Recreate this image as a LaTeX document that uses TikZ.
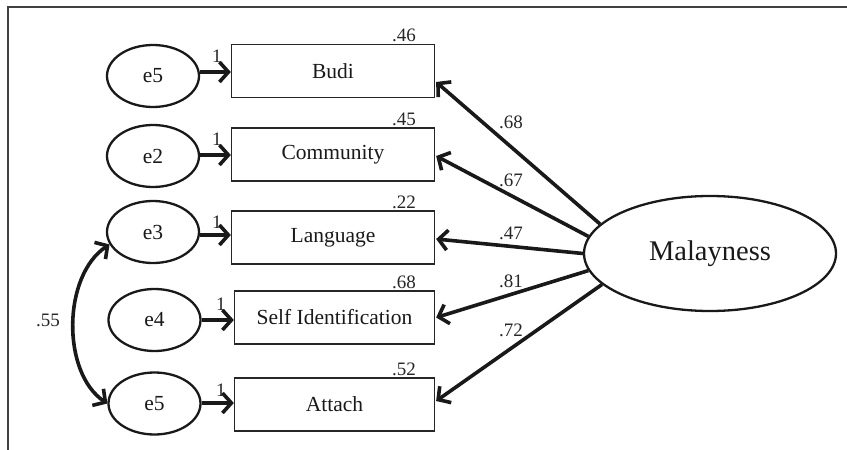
\documentclass[tikz,border=0pt]{standalone}
\usepackage{fontspec}
\setmainfont{Liberation Serif}
\usetikzlibrary{arrows.meta,shapes.geometric,calc}
\begin{document}
\begin{tikzpicture}[x=1pt,y=-1pt,
  obs/.style={draw=black!85, line width=1.3pt, rectangle, inner sep=0pt,
    minimum width=203pt, minimum height=53pt, text=black!90,
    font=\fontsize{21.5}{24}\selectfont},
  err/.style={ellipse, draw=black!90, line width=2.3pt, inner sep=0pt,
    minimum width=92pt, minimum height=62pt, text=black!90,
    font=\fontsize{21.5}{24}\selectfont},
  lat/.style={ellipse, draw=black!90, line width=2.3pt, inner sep=0pt,
    minimum width=252pt, minimum height=115pt, text=black!90,
    font=\fontsize{28.5}{32}\selectfont},
  conn/.style={line width=3.6pt, draw=black!90,
    -{Straight Barb[length=9pt,width=20pt]}},
  dconn/.style={line width=3.6pt, draw=black!90,
    {Straight Barb[length=9pt,width=20pt]}-{Straight Barb[length=9pt,width=20pt]}},
  lbl/.style={font=\fontsize{19}{21}\selectfont, inner sep=0pt, text=black!85},
  frame/.style={line width=1.6pt, draw=black!75}
]
\useasboundingbox (0,0) rectangle (847,450);
\draw[frame] (8,450) -- (8,7) -- (847,7);

% observed variables
\node[obs] (budi)   at (333,71)    {Budi};
\node[obs] (comm)   at (333,154.5) {Community};
\node[obs] (lang)   at (333,237.5) {Language};
\node[obs, minimum width=200pt] (self)   at (334.5,317.5) {Self Identification};
\node[obs, minimum width=200pt] (attach) at (334.5,404.5) {Attach};

% error terms
\node[err] (ea) at (153,76)      {e5};
\node[err] (eb) at (153,156)     {e2};
\node[err] (ec) at (153,232)     {e3};
\node[err] (ed) at (154.5,320)   {e4};
\node[err] (ee) at (154.5,403.5) {e5};

% latent
\node[lat] (mal) at (710,253.5) {Malayness};

% error -> observed
\draw[conn] (ea.east |- 0,72)  -- (budi.west |- 0,72);
\draw[conn] (eb.east |- 0,155) -- (comm.west |- 0,155);
\draw[conn] (ec.east |- 0,235) -- (lang.west |- 0,235);
\draw[conn] (ed.east |- 0,320) -- (self.west |- 0,320);
\draw[conn] (ee.east |- 0,403) -- (attach.west |- 0,403);

% weights 1
\node[lbl, anchor=base east] at ($(budi.west)+(-9,-9)$) {1};
\node[lbl, anchor=base east] at ($(comm.west)+(-9,-9)$) {1};
\node[lbl, anchor=base east] at ($(lang.west)+(-9,-9)$) {1};
\node[lbl, anchor=base east] at ($(self.west)+(-8,-7)$) {1};
\node[lbl, anchor=base east] at ($(attach.west)+(-8,-8)$) {1};

% R2 values
\node[lbl, anchor=base east] at ($(budi.north east)+(-19,-2)$) {.46};
\node[lbl, anchor=base east] at ($(comm.north east)+(-19,-2)$) {.45};
\node[lbl, anchor=base east] at ($(lang.north east)+(-19,-2)$) {.22};
\node[lbl, anchor=base east] at ($(self.north east)+(-19,-2)$) {.68};
\node[lbl, anchor=base east] at ($(attach.north east)+(-19,-2)$) {.52};

% loadings
\draw[conn] (mal.165.7) -- ($(budi.east)+(1,11)$);
\draw[conn] (mal.172.8) -- ($(comm.east)+(1,1.5)$);
\draw[conn] (mal.180)   -- ($(lang.east)+(1,1.5)$);
\draw[conn] (mal.188.6) -- ($(self.east)+(1,0)$);
\draw[conn] (mal.196.3) -- ($(attach.east)+(1,-3.5)$);

\node[lbl] at (511,122) {.68};
\node[lbl] at (511,180) {.67};
\node[lbl] at (511,233) {.47};
\node[lbl] at (511,281) {.81};
\node[lbl] at (511,330) {.72};

% covariance
\draw[dconn] (ec.196) .. controls +(-47,31) and +(-46,-31) .. (ee.180);
\node[lbl] at (48,320) {.55};
\end{tikzpicture}
\end{document}
